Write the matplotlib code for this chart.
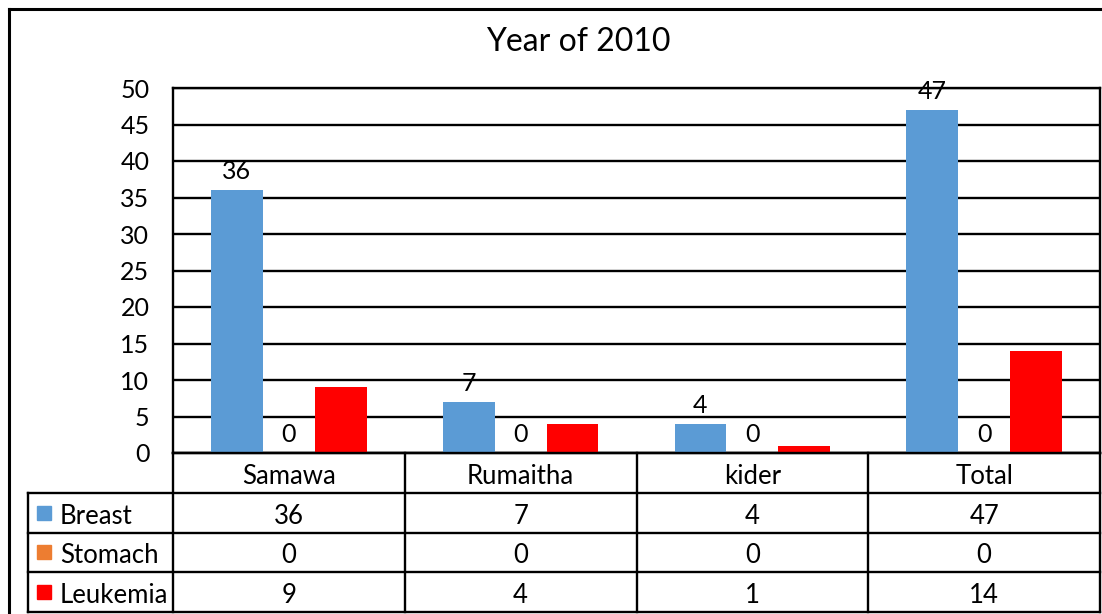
import numpy as np
import matplotlib
matplotlib.use('Agg')
import matplotlib.pyplot as plt
from matplotlib.lines import Line2D

plt.rcParams['font.family'] = ['Lato', 'DejaVu Sans']

W, H = 1102, 614

title = 'Year of 2010'
categories = ['Samawa', 'Rumaitha', 'kider', 'Total']
series_names = ['Breast', 'Stomach', 'Leukemia']
breast = [36, 7, 4, 47]
stomach = [0, 0, 0, 0]
leukemia = [9, 4, 1, 14]
colors = ['#5B9BD5', '#ED7D31', '#FF0000']
yticks = [0, 5, 10, 15, 20, 25, 30, 35, 40, 45, 50]
# only these series carry data labels in the original
labelled = ['Breast', 'Stomach']


def fx(x):
    return x / W


def fy(y):
    return 1 - y / H


fig = plt.figure(figsize=(W / 100, H / 100), dpi=100)

# outer frame
fig.add_artist(Line2D([fx(9), fx(9)], [fy(9), 0], color='black', lw=2.2, transform=fig.transFigure))
fig.add_artist(Line2D([fx(9), 1], [fy(9), fy(9)], color='black', lw=2.2, transform=fig.transFigure))

fig.text(fx(578), fy(42), title, ha='center', va='center', fontsize=23)

# plot area
left, right, top, bottom = 173, 1100, 88, 453
ax = fig.add_axes([fx(left), fy(bottom), fx(right - left), (bottom - top) / H])

x = np.arange(len(categories))
bw = 0.224
data = [breast, stomach, leukemia]
for i, (name, vals) in enumerate(zip(series_names, data)):
    bars = ax.bar(x + (i - 1) * bw, vals, width=bw, color=colors[i], zorder=3, label=name)
    if name in labelled:
        ax.bar_label(bars, padding=5, fontsize=18, zorder=4)

ax.set_xlim(-0.5, len(categories) - 0.5)
ax.set_ylim(0, 50)
ax.set_yticks(yticks)
ax.set_xticks([])
ax.tick_params(axis='y', length=0, pad=17, labelsize=18)
for y in yticks:
    ax.axhline(y, color='black', lw=1.7, zorder=1)
for s in ax.spines.values():
    s.set_linewidth(1.7)

# data table below the plot
tab_left, tab_bottom = 28, 612
tax = fig.add_axes([fx(tab_left), fy(tab_bottom), fx(right - tab_left), (tab_bottom - bottom) / H])
unit = (right - left) / len(categories)
xl = -0.5 - (left - tab_left) / unit
tax.set_xlim(xl, len(categories) - 0.5)
tax.set_ylim(4, 0)
tax.axis('off')

lw = 1.7
# horizontal lines
tax.plot([-0.5, len(categories) - 0.5], [0, 0], color='black', lw=lw, clip_on=False)
for r in [1, 2, 3, 4]:
    tax.plot([xl, len(categories) - 0.5], [r, r], color='black', lw=lw, clip_on=False)
# vertical lines
for c in range(len(categories) + 1):
    tax.plot([c - 0.5, c - 0.5], [0, 4], color='black', lw=lw, clip_on=False)
tax.plot([xl, xl], [1, 4], color='black', lw=lw, clip_on=False)

off = 0.09  # nudge text down a little within each row
for c, cat in enumerate(categories):
    tax.text(c, 0.5 + off, cat, ha='center', va='center', fontsize=18.5)

for r, (name, vals) in enumerate(zip(series_names, data)):
    yy = r + 1.5
    tax.plot(xl + 16 / unit, yy, marker='s', markersize=10, color=colors[r], clip_on=False)
    tax.text(xl + 32 / unit, yy + off, name, ha='left', va='center', fontsize=18.5)
    for c, v in enumerate(vals):
        tax.text(c, yy + off, str(v), ha='center', va='center', fontsize=18.5)

fig.savefig('out.png', dpi=100)
